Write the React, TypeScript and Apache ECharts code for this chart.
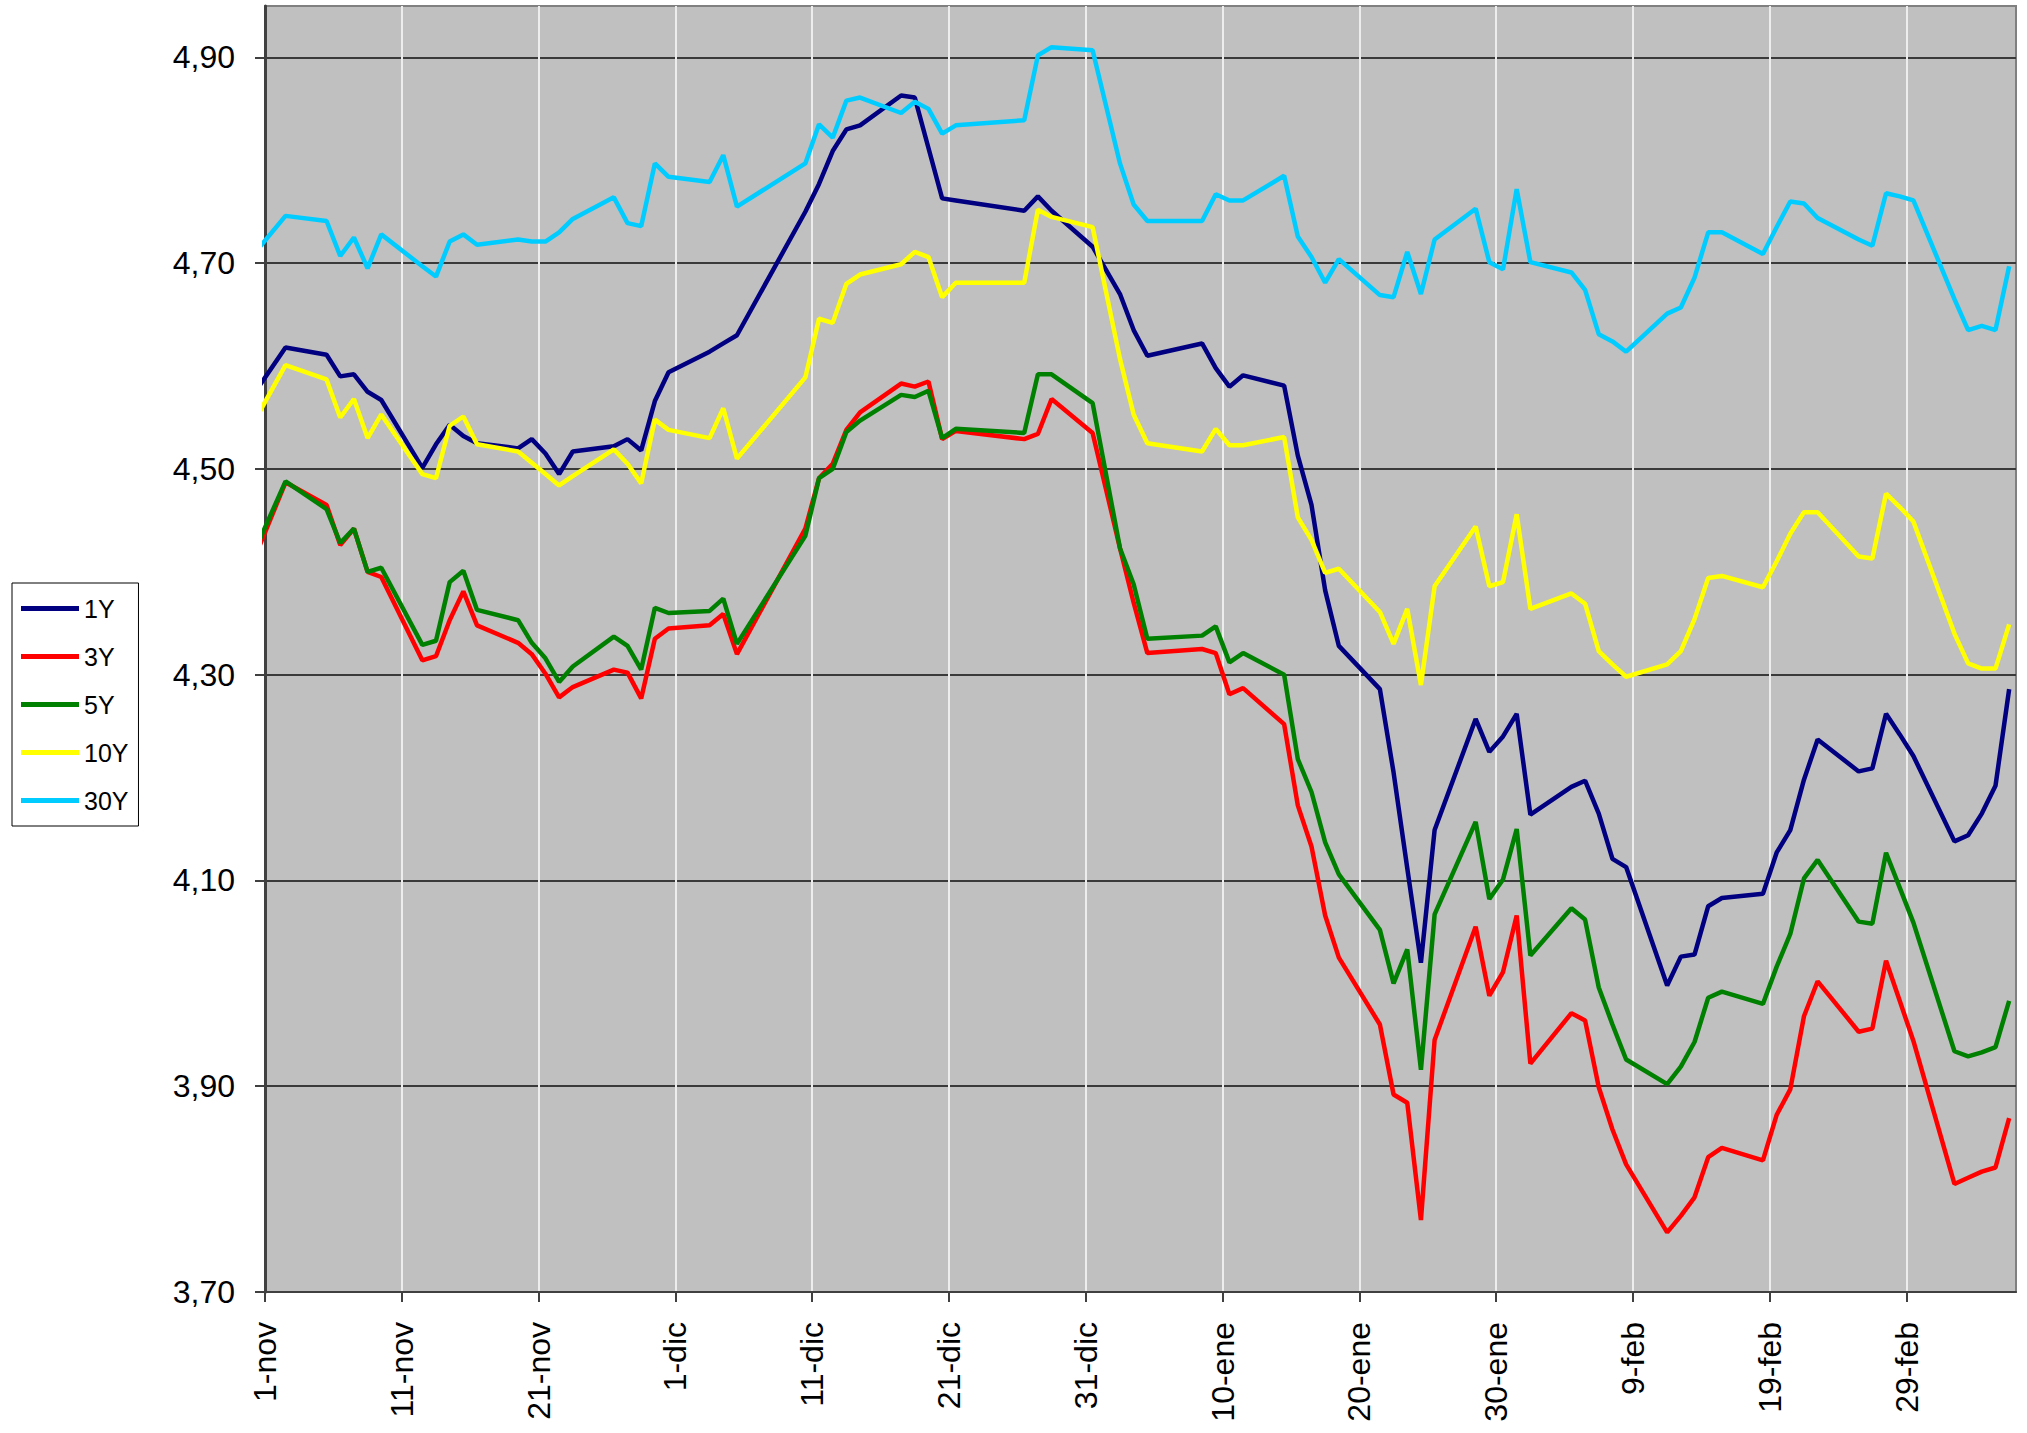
import React, { useEffect, useRef } from "react";
import * as echarts from "echarts";

// Trading dates (Spanish market calendar as shown in the chart)
const dates: string[] = [
  "2007-10-31", "2007-11-02", "2007-11-05", "2007-11-06", "2007-11-07", "2007-11-08", "2007-11-09",
  "2007-11-12", "2007-11-13", "2007-11-14", "2007-11-15", "2007-11-16",
  "2007-11-19", "2007-11-20", "2007-11-21", "2007-11-22", "2007-11-23",
  "2007-11-26", "2007-11-27", "2007-11-28", "2007-11-29", "2007-11-30",
  "2007-12-03", "2007-12-04", "2007-12-05",
  "2007-12-10", "2007-12-11", "2007-12-12", "2007-12-13", "2007-12-14",
  "2007-12-17", "2007-12-18", "2007-12-19", "2007-12-20", "2007-12-21",
  "2007-12-26", "2007-12-27", "2007-12-28", "2007-12-31",
  "2008-01-02", "2008-01-03", "2008-01-04",
  "2008-01-08", "2008-01-09", "2008-01-10", "2008-01-11",
  "2008-01-14", "2008-01-15", "2008-01-16", "2008-01-17", "2008-01-18",
  "2008-01-21", "2008-01-22", "2008-01-23", "2008-01-24", "2008-01-25",
  "2008-01-28", "2008-01-29", "2008-01-30", "2008-01-31", "2008-02-01",
  "2008-02-04", "2008-02-05", "2008-02-06", "2008-02-07", "2008-02-08",
  "2008-02-11", "2008-02-12", "2008-02-13", "2008-02-14", "2008-02-15",
  "2008-02-18", "2008-02-19", "2008-02-20", "2008-02-21", "2008-02-22",
  "2008-02-25", "2008-02-26", "2008-02-27", "2008-02-28", "2008-02-29",
  "2008-03-03", "2008-03-04", "2008-03-05", "2008-03-06", "2008-03-07",
];

const y1: number[] = [
  4.579, 4.618, 4.611, 4.590, 4.592, 4.575, 4.567,
  4.501, 4.524, 4.543, 4.532, 4.525,
  4.520, 4.529, 4.515, 4.495, 4.517,
  4.522, 4.529, 4.518, 4.566, 4.594,
  4.614, 4.622, 4.630,
  4.750, 4.777, 4.809, 4.830, 4.834,
  4.863, 4.861, 4.812, 4.763, 4.761,
  4.751, 4.765, 4.751, 4.716,
  4.670, 4.635, 4.610,
  4.622, 4.598, 4.580, 4.591,
  4.581, 4.513, 4.465, 4.382, 4.328,
  4.286, 4.205, 4.112, 4.020, 4.149,
  4.257, 4.225, 4.240, 4.262, 4.164,
  4.191, 4.197, 4.165, 4.121, 4.113,
  3.998, 4.026, 4.028, 4.075, 4.083,
  4.087, 4.127, 4.149, 4.198, 4.237,
  4.206, 4.209, 4.262, 4.242, 4.221,
  4.138, 4.144, 4.165, 4.192, 4.286,
];

const y3: number[] = [
  4.422, 4.487, 4.465, 4.426, 4.442, 4.400, 4.395,
  4.314, 4.318, 4.353, 4.381, 4.348,
  4.331, 4.320, 4.301, 4.278, 4.288,
  4.305, 4.302, 4.277, 4.335, 4.345,
  4.348, 4.359, 4.320,
  4.442, 4.491, 4.505, 4.538, 4.555,
  4.583, 4.580, 4.585, 4.529, 4.537,
  4.529, 4.534, 4.568, 4.535,
  4.423, 4.370, 4.321,
  4.325, 4.321, 4.281, 4.287,
  4.252, 4.173, 4.133, 4.066, 4.025,
  3.960, 3.892, 3.884, 3.770, 3.945,
  4.055, 3.988, 4.011, 4.066, 3.922,
  3.971, 3.964, 3.899, 3.858, 3.824,
  3.758, 3.774, 3.792, 3.831, 3.840,
  3.828, 3.872, 3.897, 3.968, 4.002,
  3.953, 3.956, 4.022, 3.983, 3.944,
  3.805, 3.811, 3.817, 3.821, 3.869,
];

const y5: number[] = [
  4.428, 4.488, 4.461, 4.428, 4.442, 4.400, 4.404,
  4.329, 4.333, 4.390, 4.401, 4.363,
  4.353, 4.331, 4.316, 4.293, 4.308,
  4.337, 4.328, 4.305, 4.365, 4.360,
  4.362, 4.374, 4.330,
  4.435, 4.491, 4.500, 4.536, 4.547,
  4.572, 4.570, 4.576, 4.530, 4.539,
  4.535, 4.592, 4.592, 4.564,
  4.423, 4.388, 4.335,
  4.338, 4.347, 4.312, 4.321,
  4.300, 4.218, 4.186, 4.137, 4.106,
  4.052, 4.000, 4.033, 3.916, 4.067,
  4.157, 4.082, 4.101, 4.150, 4.027,
  4.073, 4.062, 3.996, 3.960, 3.926,
  3.902, 3.919, 3.943, 3.986, 3.992,
  3.980, 4.016, 4.048, 4.102, 4.120,
  4.060, 4.058, 4.127, 4.093, 4.059,
  3.934, 3.929, 3.933, 3.938, 3.983,
];

const y10: number[] = [
  4.553, 4.601, 4.587, 4.550, 4.568, 4.530, 4.553,
  4.495, 4.491, 4.542, 4.551, 4.524,
  4.517, 4.506, 4.495, 4.484, 4.493,
  4.519, 4.505, 4.486, 4.548, 4.538,
  4.530, 4.559, 4.510,
  4.589, 4.646, 4.642, 4.680, 4.689,
  4.699, 4.711, 4.706, 4.667, 4.681,
  4.681, 4.752, 4.745, 4.735,
  4.607, 4.553, 4.525,
  4.517, 4.539, 4.523, 4.523,
  4.531, 4.453, 4.431, 4.399, 4.403,
  4.361, 4.330, 4.364, 4.290, 4.386,
  4.444, 4.386, 4.390, 4.456, 4.364,
  4.379, 4.369, 4.323, 4.310, 4.298,
  4.310, 4.323, 4.354, 4.394, 4.396,
  4.385, 4.410, 4.437, 4.458, 4.458,
  4.415, 4.413, 4.476, 4.463, 4.449,
  4.340, 4.311, 4.306, 4.306, 4.349,
];

const y30: number[] = [
  4.714, 4.746, 4.741, 4.707, 4.725, 4.695, 4.728,
  4.697, 4.687, 4.721, 4.728, 4.718,
  4.723, 4.721, 4.721, 4.730, 4.743,
  4.764, 4.739, 4.736, 4.797, 4.784,
  4.779, 4.805, 4.755,
  4.797, 4.835, 4.822, 4.858, 4.861,
  4.846, 4.857, 4.850, 4.826, 4.834,
  4.839, 4.902, 4.910, 4.907,
  4.797, 4.757, 4.741,
  4.741, 4.767, 4.761, 4.761,
  4.785, 4.726, 4.706, 4.681, 4.704,
  4.669, 4.667, 4.711, 4.670, 4.723,
  4.753, 4.701, 4.694, 4.772, 4.701,
  4.691, 4.674, 4.631, 4.624, 4.614,
  4.651, 4.657, 4.686, 4.730, 4.730,
  4.709, 4.735, 4.760, 4.758, 4.744,
  4.723, 4.717, 4.768, 4.765, 4.761,
  4.665, 4.635, 4.639, 4.635, 4.697,
];

const seriesNames: string[] = ["1Y", "3Y", "5Y", "10Y", "30Y"];
const seriesColors: string[] = ["#000080", "#FF0000", "#008000", "#FFFF00", "#00CCFF"];
const seriesValues: number[][] = [y1, y3, y5, y10, y30];

// x-axis tick labels every 10 days from 1-nov
const xTickLabels: string[] = [
  "1-nov", "11-nov", "21-nov", "1-dic", "11-dic", "21-dic", "31-dic",
  "10-ene", "20-ene", "30-ene", "9-feb", "19-feb", "29-feb",
];

const DAY0 = Date.UTC(2007, 10, 1);
function dayOffset(s: string): number {
  const [y, m, d] = s.split("-").map(Number);
  return (Date.UTC(y, m - 1, d) - DAY0) / 86400000;
}

const FONT = "'Liberation Sans', Arial, sans-serif";

export default function App() {
  const ref = useRef<HTMLDivElement>(null);
  useEffect(() => {
    if (!ref.current) return;
    const chart = echarts.init(ref.current, null, { renderer: "svg" });
    const xs = dates.map((d) => dayOffset(d) + 0.5);
    chart.setOption({
      animation: false,
      backgroundColor: "#ffffff",
      textStyle: { fontFamily: FONT },
      grid: {
        left: 265,
        top: 6,
        right: 11,
        bottom: 141,
        show: true,
        backgroundColor: "#C0C0C0",
        borderColor: "#808080",
        borderWidth: 2,
      },
      legend: {
        orient: "vertical",
        left: 12,
        top: 583,
        icon: "rect",
        itemWidth: 58,
        itemHeight: 5,
        itemGap: 23,
        padding: [13, 10, 13, 9],
        backgroundColor: "#ffffff",
        borderColor: "#000000",
        borderWidth: 1,
        textStyle: { fontSize: 25, color: "#000", fontFamily: FONT },
        data: seriesNames,
      },
      xAxis: {
        type: "value",
        min: 0,
        max: 128,
        interval: 10,
        axisLine: { show: true, lineStyle: { color: "#404040", width: 2 } },
        axisTick: { show: true, length: 10, lineStyle: { color: "#404040", width: 2 } },
        axisLabel: {
          rotate: 90,
          margin: 30,
          fontSize: 32,
          color: "#000",
          fontFamily: FONT,
          showMaxLabel: false,
          formatter: (v: number) => {
            const i = Math.round(v / 10);
            return Math.abs(v - i * 10) < 1e-6 && i < xTickLabels.length ? xTickLabels[i] : "";
          },
        },
        splitLine: { show: true, showMaxLine: false, lineStyle: { color: "#EDEDED", width: 2 } },
      },
      yAxis: {
        type: "value",
        min: 3.7,
        max: 4.95,
        interval: 0.2,
        axisLine: { show: true, lineStyle: { color: "#404040", width: 3 } },
        axisTick: { show: true, length: 10, lineStyle: { color: "#404040", width: 2 } },
        axisLabel: {
          margin: 30,
          fontSize: 32,
          color: "#000",
          fontFamily: FONT,
          showMaxLabel: false,
          formatter: (v: number) => {
            const k = (v - 3.7) / 0.2;
            return Math.abs(k - Math.round(k)) < 1e-6 ? v.toFixed(2).replace(".", ",") : "";
          },
        },
        splitLine: { show: true, showMaxLine: false, lineStyle: { color: "#3A3A3A", width: 2 } },
      },
      series: seriesNames.map((name, si) => ({
        name,
        type: "line",
        showSymbol: false,
        symbol: "none",
        clip: true,
        color: seriesColors[si],
        lineStyle: { color: seriesColors[si], width: 4.5 },
        data: xs.map((x, i) => [x, seriesValues[si][i]]),
      })),
    });
    return () => chart.dispose();
  }, []);
  return (
    <div
      ref={ref}
      style={{ position: "fixed", left: 0, top: 0, width: 2027, height: 1433, background: "#fff" }}
    />
  );
}
